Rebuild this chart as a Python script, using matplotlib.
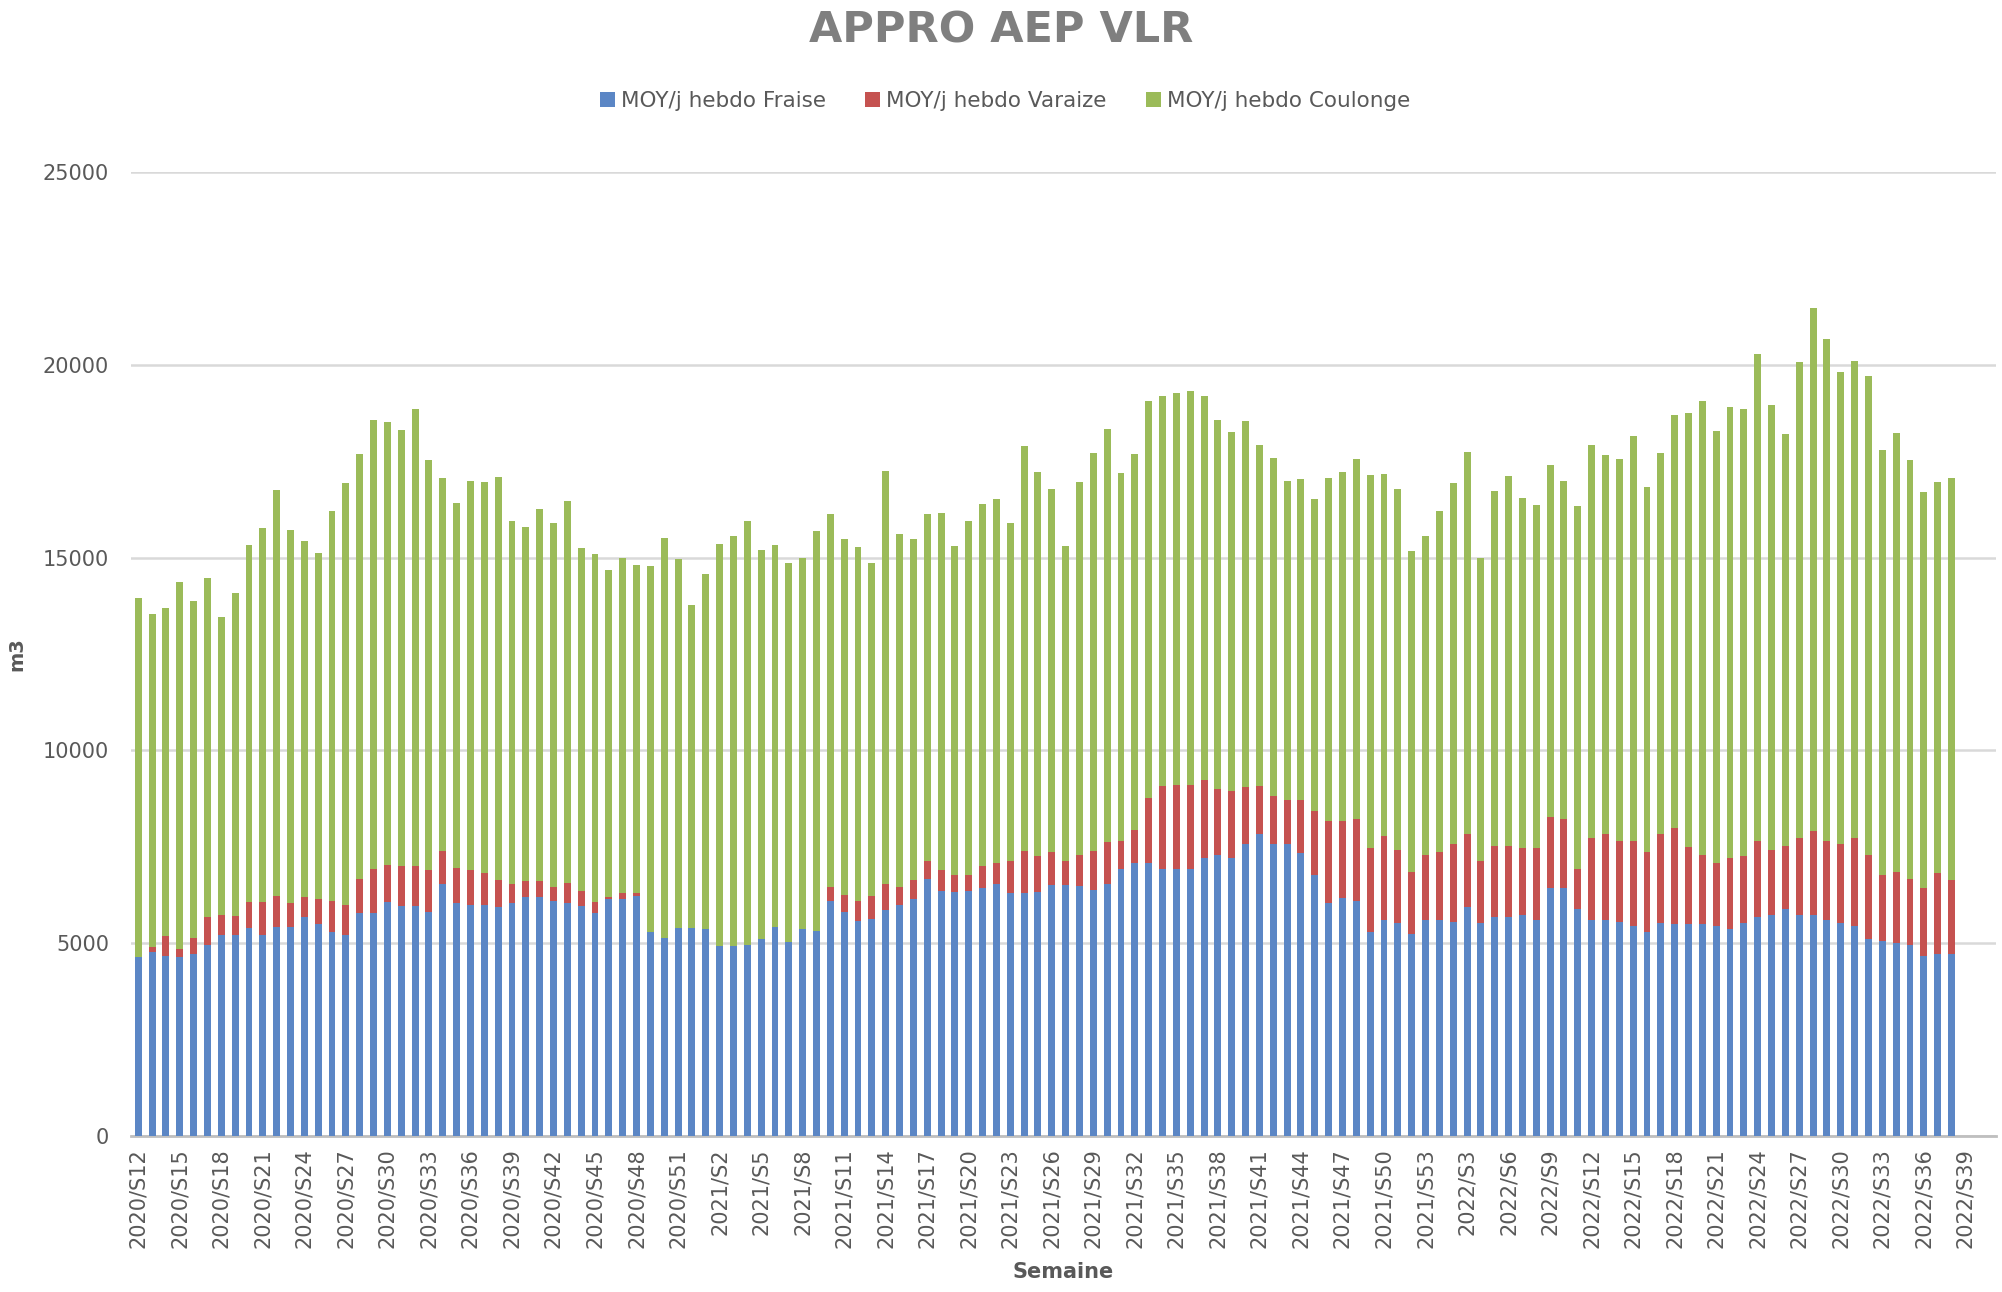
import numpy as np
import matplotlib
matplotlib.use("Agg")
import matplotlib.pyplot as plt

# week categories: (year, first week, last week)
year_ranges = [(2020, 12, 52), (2021, 1, 53), (2022, 1, 39)]
weeks = [f"{y}/S{w}" for y, a, b in year_ranges for w in range(a, b + 1)]

# daily mean per week (m3); 2022/S39 has no data
fraise = [
    4640, 4760, 4670, 4640, 4720, 4960, 5220, 5220, 5390, 5220,
    5430, 5430, 5670, 5500, 5290, 5220, 5790, 5790, 6070, 5960,
    5960, 5820, 6530, 6040, 6000, 6000, 5930, 6040, 6190, 6190,
    6100, 6040, 5960, 5790, 6150, 6140, 6220, 5290, 5140, 5390,
    5390, 5360, 4930, 4930, 4960, 5100, 5430, 5040, 5360, 5330,
    6100, 5820, 5570, 5640, 5860, 6000, 6140, 6670, 6360, 6330,
    6360, 6430, 6530, 6290, 6290, 6330, 6500, 6500, 6480, 6390,
    6530, 6930, 7070, 7070, 6930, 6930, 6930, 7220, 7290, 7220,
    7570, 7820, 7570, 7570, 7330, 6760, 6050, 6180, 6100, 5280,
    5610, 5530, 5240, 5610, 5610, 5560, 5940, 5530, 5690, 5690,
    5730, 5610, 6430, 6430, 5890, 5610, 5610, 5560, 5450, 5280,
    5530, 5500, 5500, 5500, 5450, 5370, 5530, 5690, 5730, 5890,
    5730, 5730, 5610, 5530, 5450, 5120, 5070, 5010, 4960, 4680,
    4710, 4710,
]
varaize = [
    0, 140, 520, 220, 420, 710, 520, 490, 680, 850,
    790, 610, 520, 640, 810, 780, 880, 1140, 970, 1040,
    1040, 1080, 870, 920, 900, 820, 710, 490, 430, 430,
    370, 530, 400, 280, 50, 150, 70, 0, 0, 0,
    0, 0, 0, 0, 0, 0, 0, 0, 0, 0,
    370, 420, 530, 580, 670, 470, 500, 470, 540, 430,
    400, 570, 540, 850, 1100, 920, 860, 640, 810, 1000,
    1090, 720, 860, 1690, 2140, 2170, 2170, 2000, 1710, 1740,
    1480, 1260, 1260, 1150, 1390, 1680, 2130, 2000, 2130, 2180,
    2160, 1880, 1600, 1670, 1750, 2010, 1880, 1600, 1840, 1820,
    1730, 1850, 1850, 1800, 1030, 2130, 2210, 2100, 2210, 2080,
    2290, 2480, 1990, 1800, 1630, 1830, 1720, 1970, 1680, 1640,
    2010, 2170, 2050, 2040, 2290, 2180, 1690, 1830, 1710, 1750,
    2100, 1930,
]
coulonge = [
    9320, 8630, 8510, 9500, 8740, 8810, 7710, 8370, 9260, 9690,
    10540, 9680, 9230, 8980, 10120, 10930, 11010, 11630, 11470, 11310,
    11850, 10630, 9660, 9460, 10090, 10140, 10440, 9430, 9170, 9630,
    9430, 9910, 8890, 9030, 8480, 8710, 8530, 9500, 10360, 9570,
    8370, 9220, 10430, 10630, 11000, 10090, 9900, 9820, 9620, 10370,
    9660, 9240, 9180, 8640, 10720, 9150, 8840, 8990, 9260, 8540,
    9200, 9390, 9460, 8760, 10510, 9970, 9430, 8160, 9680, 10310,
    10710, 9540, 9750, 10290, 10120, 10180, 10230, 9970, 9560, 9290,
    9490, 8850, 8760, 8260, 8330, 8080, 8880, 9050, 9320, 9690,
    9410, 9380, 8340, 8280, 8850, 9360, 9930, 7860, 9190, 9600,
    9080, 8900, 9110, 8750, 9410, 10190, 9850, 9890, 10500, 9460,
    9900, 10720, 11260, 11760, 11210, 11710, 11610, 12630, 11540, 10680,
    12320, 13580, 13000, 12230, 12350, 12410, 11040, 11400, 10850, 10260,
    10140, 10420,
]

series_names = ["MOY/j hebdo Fraise", "MOY/j hebdo Varaize", "MOY/j hebdo Coulonge"]
colors = ["#5b86c5", "#c55250", "#9bbb59"]
text_gray = "#595959"

fig = plt.figure(figsize=(20.02, 12.92), dpi=100)
ax = fig.add_axes([0.0656, 0.1207, 0.9313, 0.7462])

x = np.arange(len(fraise))
f = np.array(fraise, dtype=float)
v = np.array(varaize, dtype=float)
c = np.array(coulonge, dtype=float)
w = 0.5
ax.bar(x, f, width=w, color=colors[0], label=series_names[0], zorder=3)
ax.bar(x, v, width=w, bottom=f, color=colors[1], label=series_names[1], zorder=3)
ax.bar(x, c, width=w, bottom=f + v, color=colors[2], label=series_names[2], zorder=3)

ax.set_ylim(0, 25000)
ax.set_xlim(-0.5, 134.2)
ax.set_yticks(np.arange(0, 25001, 5000))
ax.yaxis.grid(True, color="#d9d9d9", linewidth=1.8, zorder=0)
ax.set_axisbelow(True)

tick_pos = np.arange(0, len(weeks), 3)
ax.set_xticks(tick_pos)
ax.set_xticklabels([weeks[i] for i in tick_pos], rotation=90, fontsize=15,
                   color=text_gray)
ax.tick_params(axis="x", length=0, pad=9)
ax.tick_params(axis="y", length=0, pad=16, labelsize=15, labelcolor=text_gray)

for s in ["top", "right", "left"]:
    ax.spines[s].set_visible(False)
ax.spines["bottom"].set_color("#bfbfbf")
ax.spines["bottom"].set_linewidth(2)

ax.set_ylabel("m3", fontsize=14, fontweight="bold", color=text_gray, labelpad=12)
ax.set_xlabel("Semaine", fontsize=15, fontweight="bold", color=text_gray, labelpad=10)

fig.suptitle("APPRO AEP VLR", fontsize=31, fontweight="bold", color="#7f7f7f",
             y=0.993)
fig.legend(loc="center", bbox_to_anchor=(0.502, 0.922), ncol=3, frameon=False,
           fontsize=15.5, handlelength=0.7, handleheight=0.7, handletextpad=0.3,
           columnspacing=1.8, labelcolor=text_gray)

fig.savefig("out.png", dpi=100)
